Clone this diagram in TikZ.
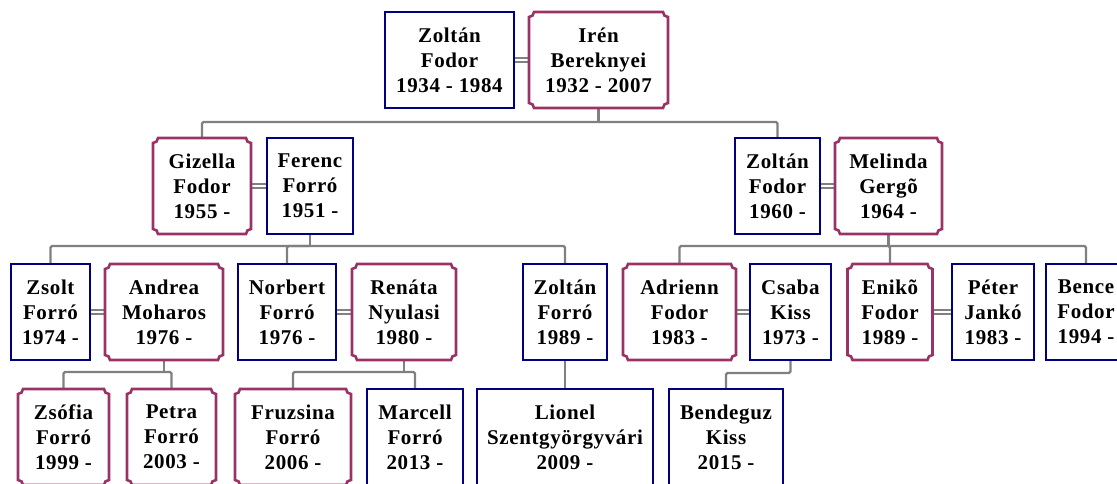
\documentclass[tikz,border=0pt]{standalone}
\usepackage{fontspec}
\setmainfont{Liberation Serif}[LetterSpace=3]
\usetikzlibrary{calc,backgrounds}
\definecolor{malecol}{RGB}{0,0,128}
\definecolor{femcol}{RGB}{153,51,102}
\definecolor{linkcol}{RGB}{128,128,128}
\tikzset{
  person/.style={rectangle, minimum height=96pt, inner sep=0pt, outer sep=0pt,
    align=center, fill=white, font=\bfseries\fontsize{21}{25}\selectfont},
  male/.style={person, draw=malecol, line width=2.8pt},
  female/.style={person},
  femframe/.style={draw=femcol, line width=2.6pt, line join=miter},
  link/.style={draw=linkcol, line width=2.4pt, rounded corners=1.5pt},
  wed/.style={draw=linkcol, line width=2.1pt, double=white, double distance=2.6pt}
}
\begin{document}
\begin{tikzpicture}[x=1pt,y=-1pt]
\useasboundingbox (0,0) rectangle (1117,483);
\clip (0,0) rectangle (1117,483);

% generation 1
\node[male,   minimum width=129pt] (zoltanA) at (449.5,60) {Zoltán\\Fodor\\1934 - 1984};
\node[female, minimum width=139pt] (iren)    at (598.5,60) {Irén\\Bereknyei\\1932 - 2007};

% generation 2
\node[female, minimum width=98pt]  (gizella) at (202,186)   {Gizella\\Fodor\\1955 -};
\node[male,   minimum width=86pt]  (ferenc)  at (310,186)   {Ferenc\\Forró\\1951 -};
\node[male,   minimum width=85pt]  (zoltanB) at (777.5,186) {Zoltán\\Fodor\\1960 -};
\node[female, minimum width=107pt] (melinda) at (888.5,186) {Melinda\\Gergõ\\1964 -};

% generation 3
\node[male,   minimum width=79pt]  (zsolt)   at (50.5,312)  {Zsolt\\Forró\\1974 -};
\node[female, minimum width=118pt] (andrea)  at (164,312)   {Andrea\\Moharos\\1976 -};
\node[male,   minimum width=98pt]  (norbert) at (287,312)   {Norbert\\Forró\\1976 -};
\node[female, minimum width=104pt] (renata)  at (404,312)   {Renáta\\Nyulasi\\1980 -};
\node[male,   minimum width=84pt]  (zoltanC) at (565,312)   {Zoltán\\Forró\\1989 -};
\node[female, minimum width=113pt] (adrienn) at (679.5,312) {Adrienn\\Fodor\\1983 -};
\node[male,   minimum width=81pt]  (csaba)   at (790.5,312) {Csaba\\Kiss\\1973 -};
\node[female, minimum width=85pt]  (eniko)   at (890,312)   {Enikõ\\Fodor\\1989 -};
\node[male,   minimum width=82pt]  (peter)   at (993,312)   {Péter\\Jankó\\1983 -};
\node[male,   minimum width=80pt]  (bence)   at (1086,312)  {Bence\\Fodor\\1994 -};

% generation 4
\node[female, minimum width=91pt]  (zsofia)   at (63.5,437)  {Zsófia\\Forró\\1999 -};
\node[female, minimum width=89pt]  (petra)    at (171.5,437) {Petra\\Forró\\2003 -};
\node[female, minimum width=116pt] (fruzsina) at (293,437)   {Fruzsina\\Forró\\2006 -};
\node[male,   minimum width=96pt]  (marcell)  at (415,437)   {Marcell\\Forró\\2013 -};
\node[male,   minimum width=176pt] (lionel)   at (565,437)   {Lionel\\Szentgyörgyvári\\2009 -};
\node[male,   minimum width=114pt] (bendeguz) at (726,437)   {Bendeguz\\Kiss\\2015 -};

% frames with concave corners for the women
\foreach \n in {iren,gizella,melinda,andrea,renata,adrienn,eniko,zsofia,petra,fruzsina}{
  \draw[femframe]
    ([yshift=-5pt]\n.north west) .. controls +(2.8pt,0pt) and +(0pt,-2.8pt) .. ([xshift=5pt]\n.north west)
    -- ([xshift=-5pt]\n.north east) .. controls +(0pt,-2.8pt) and +(-2.8pt,0pt) .. ([yshift=-5pt]\n.north east)
    -- ([yshift=5pt]\n.south east) .. controls +(-2.8pt,0pt) and +(0pt,2.8pt) .. ([xshift=-5pt]\n.south east)
    -- ([xshift=5pt]\n.south west) .. controls +(0pt,2.8pt) and +(2.8pt,0pt) .. ([yshift=5pt]\n.south west)
    -- cycle;
}

\begin{pgfonlayer}{background}
  \fill[white] (0,0) rectangle (1117,483);

  % marriages
  \draw[wed] (zoltanA.east) -- (iren.west);
  \draw[wed] (gizella.east) -- (ferenc.west);
  \draw[wed] (zoltanB.east) -- (melinda.west);
  \draw[wed] (zsolt.east)   -- (andrea.west);
  \draw[wed] (norbert.east) -- (renata.west);
  \draw[wed] (adrienn.east) -- (csaba.west);
  \draw[wed] (eniko.east)   -- (peter.west);

  % descent lines
  \coordinate (b1) at ($(iren.south)+(0,14)$);
  \draw[link] (iren.south) -- (b1);
  \draw[link] (gizella.north) |- (b1) -| (zoltanB.north);

  \coordinate (b2) at ($(ferenc.south)+(0,12)$);
  \draw[link] (ferenc.south) -- (b2);
  \draw[link] (zsolt.north) |- (b2) -| (zoltanC.north);
  \draw[link] (b2) -| (norbert.north);

  \coordinate (b3) at ($(melinda.south)+(0,12)$);
  \draw[link] (melinda.south) -- (b3);
  \draw[link] (adrienn.north) |- (b3) -| (bence.north);
  \draw[link] (b3) -| (eniko.north);

  \coordinate (b4) at ($(andrea.south)+(0,12)$);
  \draw[link] (andrea.south) -- (b4);
  \draw[link] (zsofia.north) |- (b4) -| (petra.north);

  \coordinate (b5) at ($(renata.south)+(0,12)$);
  \draw[link] (renata.south) -- (b5);
  \draw[link] (fruzsina.north) |- (b5) -| (marcell.north);

  \draw[link] (zoltanC.south) -- (lionel.north);

  \coordinate (b6) at ($(csaba.south)+(0,13)$);
  \draw[link] (csaba.south) -- (b6) -| (bendeguz.north);
\end{pgfonlayer}
\end{tikzpicture}
\end{document}
